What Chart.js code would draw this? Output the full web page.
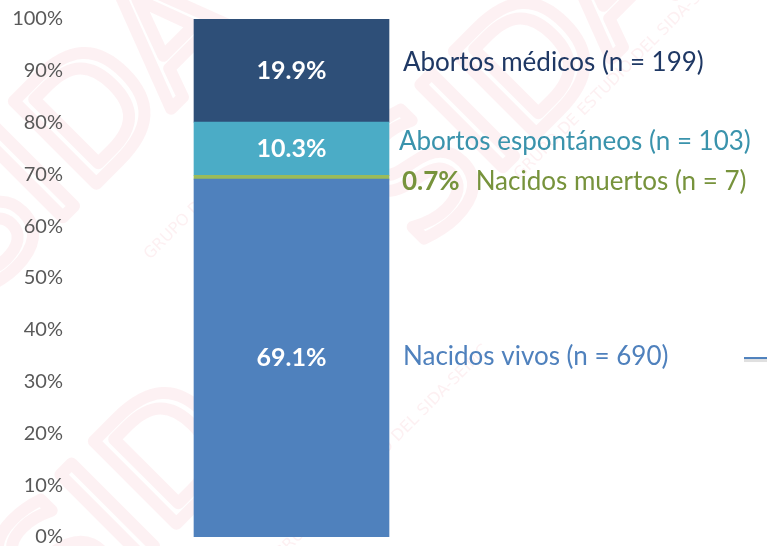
<!DOCTYPE html>
<html>
<head>
<meta charset="utf-8">
<script src="https://cdn.jsdelivr.net/npm/chart.js@4"></script>
<style>
  html, body { margin: 0; padding: 0; background: #fff; }
  #wrap { width: 767px; height: 546px; }
</style>
</head>
<body>
<div id="wrap"><canvas id="chart"></canvas></div>
<script>
const categories = [''];
const seriesNames = ['Nacidos vivos (n = 690)', 'Nacidos muertos (n = 7)', 'Abortos espontáneos (n = 103)', 'Abortos médicos (n = 199)'];
const seriesValues = [69.1, 0.7, 10.3, 19.9];
const yTicks = [0, 10, 20, 30, 40, 50, 60, 70, 80, 90, 100];

const barColors = ['#4F81BD', '#9BBB59', '#4BACC6', '#2E4F78'];
const textColors = ['#4F81BD', '#77933C', '#3A93AC', '#1F3864'];
// pixel nudges for the side labels, relative to segment centre
const sideLabel = [
    { dx: 14, dy: -1 },
    { dx: 13, dy: 4 },
    { dx: 10, dy: -7 },
    { dx: 14, dy: -8 },
];

const watermark = {
    id: 'watermark',
    beforeDraw(chart) {
        const ctx = chart.ctx;
        ctx.save();
        ctx.strokeStyle = 'rgba(225, 60, 90, 0.07)';
        ctx.fillStyle = 'rgba(225, 60, 90, 0.08)';
        ctx.lineWidth = 12;
        ctx.lineJoin = 'round';
        ctx.font = '160px "DejaVu Sans"';
        const spots = [[-20, 300], [420, 250], [60, 640]];
        spots.forEach(([x, y]) => {
            ctx.save();
            ctx.translate(x, y);
            ctx.rotate(-Math.PI / 4);
            ctx.strokeText('SIDA', 0, 0);
            ctx.restore();
        });
        ctx.font = '16px "DejaVu Sans"';
        [[150, 260], [520, 180], [280, 560]].forEach(([x, y]) => {
            ctx.save();
            ctx.translate(x, y);
            ctx.rotate(-Math.PI / 4);
            ctx.fillText('GRUPO DE ESTUDIO DEL SIDA-SEIMC', 0, 0);
            ctx.restore();
        });
        ctx.restore();
    }
};

const labels = {
    id: 'labels',
    afterDatasetsDraw(chart) {
        const ctx = chart.ctx;
        ctx.save();
        ctx.textBaseline = 'middle';
        chart.data.datasets.forEach((ds, i) => {
            const bar = chart.getDatasetMeta(i).data[0];
            const mid = (bar.y + bar.base) / 2;
            const right = bar.x + bar.width / 2;
            const v = ds.data[0];
            const pct = v.toFixed(1) + '%';
            if (v >= 5) {
                ctx.fillStyle = '#fff';
                ctx.font = 'bold 25px Lato';
                ctx.textAlign = 'center';
                ctx.fillText(pct, bar.x, mid);
            }
            let x = right + sideLabel[i].dx;
            const y = mid + sideLabel[i].dy;
            ctx.textAlign = 'left';
            ctx.fillStyle = textColors[i];
            if (v < 5) {
                ctx.font = 'bold 26px Lato';
                ctx.fillText(pct, x, y);
                x += ctx.measureText(pct).width + 16;
            }
            ctx.font = '26px Lato';
            ctx.fillText(ds.label, x, y);
        });
        // stray legend dash at the right edge
        const vivos = chart.getDatasetMeta(0).data[0];
        const yv = (vivos.y + vivos.base) / 2;
        ctx.fillStyle = 'rgba(0,0,0,0.12)';
        ctx.fillRect(744, yv + 1, 23, 3);
        ctx.fillStyle = '#4F81BD';
        ctx.fillRect(744, yv - 1, 23, 2);
        ctx.restore();
    }
};

new Chart(document.getElementById('chart'), {
    type: 'bar',
    data: {
        labels: categories,
        datasets: seriesNames.map((name, i) => ({
            label: name,
            data: [seriesValues[i]],
            backgroundColor: barColors[i],
            barThickness: 195,
        }))
    },
    options: {
        responsive: true,
        maintainAspectRatio: false,
        animation: false,
        layout: { padding: { top: 19, bottom: 9, right: 260, left: 0 } },
        plugins: {
            legend: { display: false },
            tooltip: { enabled: false },
        },
        scales: {
            x: {
                stacked: true,
                display: false,
            },
            y: {
                stacked: true,
                min: 0,
                max: 100,
                border: { display: false },
                grid: { display: false, drawTicks: false },
                afterFit: scale => {
                    scale.width = 76;
                    scale.paddingTop = 0;
                    scale.paddingBottom = 0;
                },
                afterBuildTicks: scale => { scale.ticks = yTicks.map(v => ({ value: v })); },
                ticks: {
                    padding: 13,
                    color: '#595959',
                    font: { family: 'Lato', size: 20 },
                    callback: v => v + '%',
                }
            }
        }
    },
    plugins: [watermark, labels]
});
</script>
</body>
</html>
